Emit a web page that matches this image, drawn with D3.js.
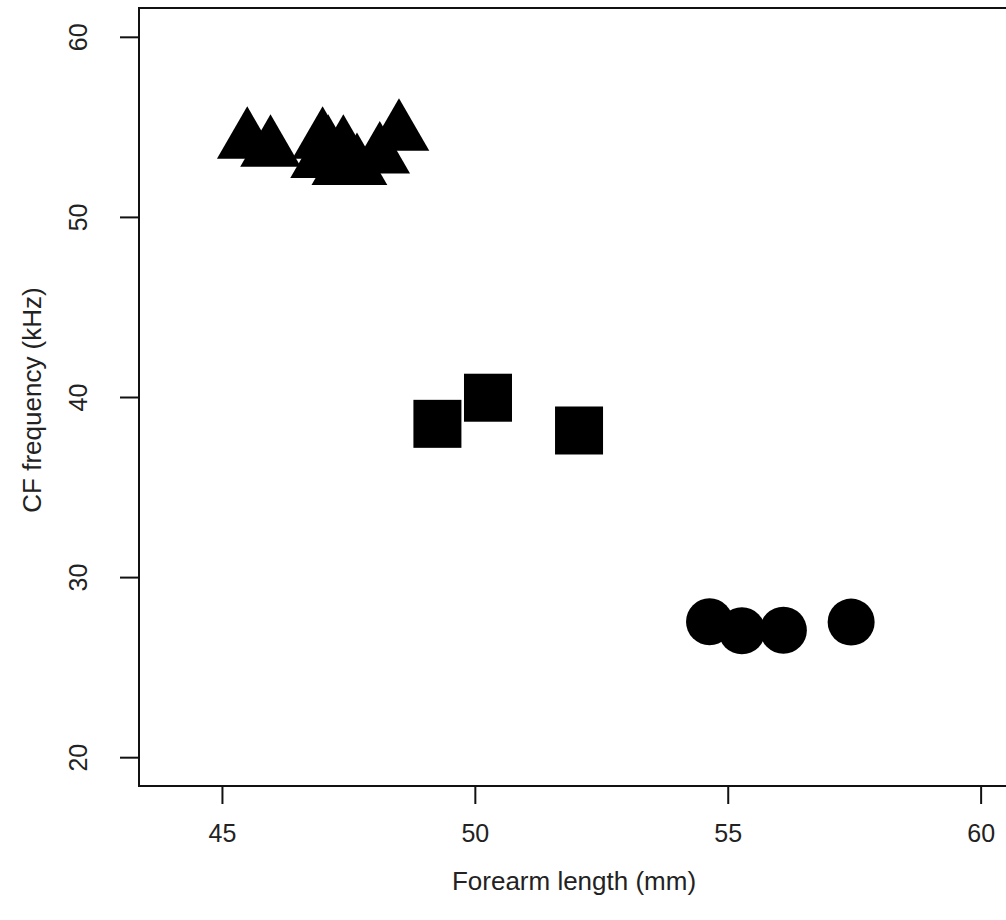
<!DOCTYPE html>
<html>
<head>
<meta charset="utf-8">
<script src="https://cdn.jsdelivr.net/npm/d3@7"></script>
<style>
  html, body { margin: 0; padding: 0; background: #fff; }
  svg text { font-family: "Liberation Sans", Arial, sans-serif; fill: #222; }
</style>
</head>
<body>
<svg id="chart" width="1006" height="920"></svg>
<script>
// forearm length (mm) / CF frequency (kHz), one array pair per group
const triX = [45.5, 45.96, 46.99, 47.1, 47.4, 47.37, 47.67, 48.5, 48.12, 46.95];
const triY = [54.2, 53.75, 54.2, 53.75, 53.75, 52.74, 52.74, 54.64, 53.38, 53.13];
const sqX = [49.26, 50.26, 52.06];
const sqY = [38.51, 39.96, 38.14];
const circX = [54.64, 55.28, 56.1, 57.44];
const circY = [27.52, 27.02, 27.05, 27.5];

const xTicks = [45, 50, 55, 60];
const yTicks = [20, 30, 40, 50, 60];
const xLim = [44, 60];
const yLim = [20, 60];

const svg = d3.select("#chart");

// R-style 4% padding around the limits
const pad = (lim) => {
  const e = (lim[1] - lim[0]) * 0.04;
  return [lim[0] - e, lim[1] + e];
};

const x = d3.scaleLinear().domain(pad(xLim)).range([139, 1013]);
const y = d3.scaleLinear().domain(pad(yLim)).range([786, 8]);

const g = svg.append("g");

// symbols
const triSize = 35; // distance centre to apex
const triangle = (cx, cy) => {
  const r = triSize * Math.sqrt(3) / 2;
  return `M${cx},${cy - triSize}L${cx + r},${cy + triSize / 2}L${cx - r},${cy + triSize / 2}Z`;
};

g.append("g")
  .selectAll("path")
  .data(d3.zip(triX, triY))
  .join("path")
  .attr("d", (d) => triangle(x(d[0]), y(d[1])))
  .attr("fill", "#000");

const side = 48;
g.append("g")
  .selectAll("rect")
  .data(d3.zip(sqX, sqY))
  .join("rect")
  .attr("x", (d) => x(d[0]) - side / 2)
  .attr("y", (d) => y(d[1]) - side / 2)
  .attr("width", side)
  .attr("height", side)
  .attr("fill", "#000");

g.append("g")
  .selectAll("circle")
  .data(d3.zip(circX, circY))
  .join("circle")
  .attr("cx", (d) => x(d[0]))
  .attr("cy", (d) => y(d[1]))
  .attr("r", 23.5)
  .attr("fill", "#000");

// box
svg.append("rect")
  .attr("x", x.range()[0])
  .attr("y", y.range()[1])
  .attr("width", x.range()[1] - x.range()[0])
  .attr("height", y.range()[0] - y.range()[1])
  .attr("fill", "none")
  .attr("stroke", "#111")
  .attr("stroke-width", 2);

// axes
const xAxis = svg.append("g")
  .attr("transform", `translate(0,${y.range()[0]})`)
  .call(d3.axisBottom(x).tickValues(xTicks).tickSize(18).tickPadding(20).tickSizeOuter(0));
xAxis.select(".domain").remove();
xAxis.selectAll("line").attr("stroke", "#111").attr("stroke-width", 2);
xAxis.selectAll("text")
  .attr("font-size", 25)
  .attr("font-family", "Liberation Sans, Arial, sans-serif")
  .attr("fill", "#222");

const yAxis = svg.append("g")
  .attr("transform", `translate(${x.range()[0]},0)`)
  .call(d3.axisLeft(y).tickValues(yTicks).tickSize(19).tickSizeOuter(0));
yAxis.select(".domain").remove();
yAxis.selectAll("line").attr("stroke", "#111").attr("stroke-width", 2);
yAxis.selectAll("text")
  .attr("x", null)
  .attr("dy", null)
  .attr("text-anchor", "middle")
  .attr("transform", "translate(-52,0) rotate(-90)")
  .attr("font-size", 25)
  .attr("font-family", "Liberation Sans, Arial, sans-serif")
  .attr("fill", "#222");

svg.append("text")
  .attr("x", 574)
  .attr("y", 890)
  .attr("text-anchor", "middle")
  .attr("font-size", 26)
  .text("Forearm length (mm)");

svg.append("text")
  .attr("transform", "translate(41,400) rotate(-90)")
  .attr("text-anchor", "middle")
  .attr("font-size", 26)
  .text("CF frequency (kHz)");
</script>
</body>
</html>
